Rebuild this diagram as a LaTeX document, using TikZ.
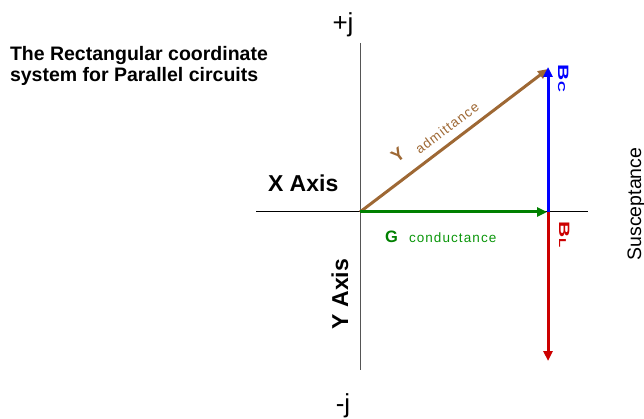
\documentclass[tikz,border=0pt]{standalone}
\usepackage{fontspec}
\setmainfont{Liberation Sans}
\usetikzlibrary{arrows.meta}
\definecolor{ybrown}{RGB}{158,104,52}
\definecolor{gcol}{RGB}{0,128,0}
\definecolor{gtext}{RGB}{10,150,10}
\definecolor{bcol}{RGB}{0,0,255}
\definecolor{rcol}{RGB}{204,0,0}
\definecolor{axgray}{RGB}{85,85,85}
\begin{document}
\begin{tikzpicture}[x=1pt,y=-1pt,
  vec/.style={line width=3pt,-{Triangle[length=10pt,width=9pt]}},
  axisline/.style={line width=1pt},
  lbl/.style={inner sep=0pt,outer sep=0pt}]
\useasboundingbox (0,0) rectangle (644,419);
% coordinates
\coordinate (O) at (360,212);
\coordinate (AL) at (256,212);
\coordinate (AR) at (588,212);
\coordinate (AT) at (360,43);
\coordinate (AB) at (360,370);
\coordinate (P) at (548,212);
\coordinate (Ytip) at (548,69);
\coordinate (Gtip) at (547,212);
\coordinate (Bctip) at (548,67);
\coordinate (BLtip) at (548,361);
% axes
\draw[axisline] (AL) -- (AR);
\draw[axisline,axgray] (AT) -- (AB);
% vectors
\draw[vec,ybrown] (O) -- (Ytip);
\draw[vec,bcol] (P) -- (Bctip);
\draw[vec,rcol] (P) -- (BLtip);
\draw[vec,gcol] (O) -- (Gtip);
% texts
\node[lbl,anchor=base west,align=left,font=\fontsize{19.5}{21.5}\selectfont\bfseries] (title) at (10,82)
  {The Rectangular coordinate\\system for Parallel circuits};
\node[lbl,anchor=base,font=\fontsize{26}{28}\selectfont] (pj) at (343,32) {+j};
\node[lbl,anchor=base,font=\fontsize{26}{28}\selectfont] (mj) at (343,412) {-j};
\node[lbl,anchor=base west,font=\fontsize{23}{25}\selectfont\bfseries] (xax) at (268,192) {X Axis};
\node[lbl,anchor=base,rotate=90,font=\fontsize{23}{25}\selectfont\bfseries] (yax) at (348,294) {Y Axis};
\node[lbl,anchor=base west,text=gcol,font=\fontsize{16.5}{18}\selectfont\bfseries] (G) at (385,243) {G};
\node[lbl,anchor=base west,text=gtext,font=\fontsize{13.5}{15}\selectfont] (cond) at (409,243)
  {\addfontfeatures{LetterSpace=8}conductance};
\node[lbl,anchor=center,rotate=37.4,text=ybrown,font=\fontsize{18}{19}\selectfont\bfseries] (Y) at (398,155) {Y};
\node[lbl,anchor=center,rotate=37.4,text=ybrown,font=\fontsize{13.5}{15}\selectfont] (adm) at (447,128)
  {\addfontfeatures{LetterSpace=8}admittance};
\node[lbl,anchor=base west,rotate=-90,text=bcol] (Bc) at (558,65)
  {\scalebox{1.5}[1]{\fontsize{15}{17}\selectfont\bfseries B\fontsize{10}{12}\selectfont C}};
\node[lbl,anchor=base west,rotate=-90,text=rcol] (BL) at (559,222)
  {\scalebox{1.5}[1]{\fontsize{15}{17}\selectfont\bfseries B\fontsize{10}{12}\selectfont L}};
\node[lbl,anchor=base,rotate=90,font=\fontsize{19.5}{22}\selectfont] (sus) at (641,204) {Susceptance};
\end{tikzpicture}
\end{document}
